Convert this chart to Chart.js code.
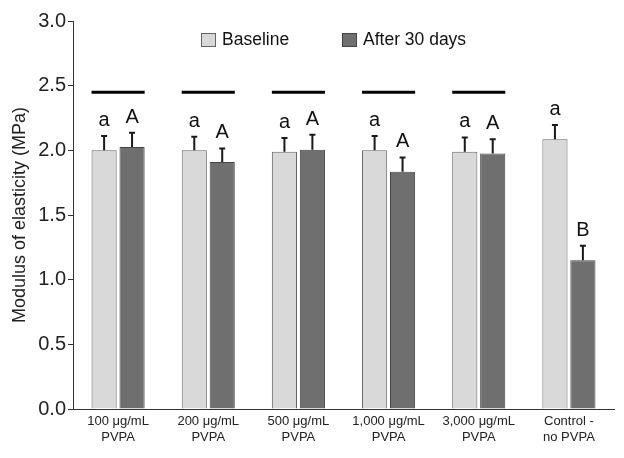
<!DOCTYPE html>
<html>
<head>
<meta charset="utf-8">
<script src="https://cdn.jsdelivr.net/npm/chart.js@4.4.1/dist/chart.umd.min.js"></script>
<style>
  html, body { margin: 0; padding: 0; background: #ffffff; }
  #wrap { width: 624px; height: 458px; }
</style>
</head>
<body>
<div id="wrap"><canvas id="c" width="624" height="458"></canvas></div>
<script>
// ---- data ----
const categories = [
  ["100 \u03bcg/mL", "PVPA"],
  ["200 \u03bcg/mL", "PVPA"],
  ["500 \u03bcg/mL", "PVPA"],
  ["1,000 \u03bcg/mL", "PVPA"],
  ["3,000 \u03bcg/mL", "PVPA"],
  ["Control -", "no PVPA"]
];
const baseline = [2.00, 2.00, 1.99, 2.00, 1.99, 2.085];
const after30 = [2.025, 1.91, 2.005, 1.835, 1.975, 1.15];
const baselineErr = [0.11, 0.105, 0.105, 0.11, 0.11, 0.11];
const after30Err = [0.11, 0.105, 0.115, 0.11, 0.11, 0.113];
const baselineLetters = ["a", "a", "a", "a", "a", "a"];
const after30Letters = ["A", "A", "A", "A", "A", "B"];
const sigLineGroups = [true, true, true, true, true, false];
const sigLineValue = 2.45;
const yTicks = [0, 0.5, 1.0, 1.5, 2.0, 2.5, 3.0];
const seriesNames = ["Baseline", "After 30 days"];

const FONT = "'Liberation Sans', Arial, Helvetica, sans-serif";

const annotations = {
  id: 'annotations',
  afterDatasetsDraw(chart) {
    const ctx = chart.ctx;
    const y = chart.scales.y;
    const errs = [baselineErr, after30Err];
    const vals = [baseline, after30];
    const letters = [baselineLetters, after30Letters];
    ctx.save();
    // error bars and letters
    for (let d = 0; d < 2; d++) {
      const meta = chart.getDatasetMeta(d);
      meta.data.forEach((bar, i) => {
        const top = y.getPixelForValue(vals[d][i]);
        const et = y.getPixelForValue(vals[d][i] + errs[d][i]);
        ctx.strokeStyle = '#1a1a1a';
        ctx.lineWidth = 2;
        ctx.beginPath();
        ctx.moveTo(bar.x, top);
        ctx.lineTo(bar.x, et);
        ctx.moveTo(bar.x - 3, et);
        ctx.lineTo(bar.x + 3, et);
        ctx.stroke();
        ctx.fillStyle = '#111';
        ctx.font = '20px ' + FONT;
        ctx.textAlign = 'center';
        ctx.textBaseline = 'alphabetic';
        ctx.fillText(letters[d][i], bar.x, et - 10);
      });
    }
    // significance lines
    const m0 = chart.getDatasetMeta(0), m1 = chart.getDatasetMeta(1);
    const ly = y.getPixelForValue(sigLineValue);
    ctx.strokeStyle = '#000';
    ctx.lineWidth = 3;
    sigLineGroups.forEach((on, i) => {
      if (!on) return;
      const b0 = m0.data[i], b1 = m1.data[i];
      ctx.beginPath();
      ctx.moveTo(b0.x - b0.width / 2, ly);
      ctx.lineTo(b1.x + b1.width / 2, ly);
      ctx.stroke();
    });
    // legend
    const ds = chart.data.datasets;
    const legendX = [201, 342];
    const ca = chart.chartArea;
    const boxTop = ca.top + 12;
    ctx.font = '17.5px ' + FONT;
    ctx.textAlign = 'left';
    ctx.textBaseline = 'middle';
    ds.forEach((s, k) => {
      ctx.fillStyle = s.backgroundColor;
      ctx.fillRect(legendX[k] + 0.5, boxTop + 0.5, 14, 13);
      ctx.strokeStyle = s.borderColor;
      ctx.lineWidth = 1;
      ctx.strokeRect(legendX[k] + 0.5, boxTop + 0.5, 14, 13);
      ctx.fillStyle = '#111';
      ctx.fillText(s.label, legendX[k] + 21, boxTop + 7.5);
    });
    ctx.restore();
  }
};

new Chart(document.getElementById('c'), {
  type: 'bar',
  data: {
    labels: categories,
    datasets: [
      { label: seriesNames[0], data: baseline, backgroundColor: '#d9d9d9', borderColor: '#666666', borderWidth: 1,
        categoryPercentage: 0.62, barPercentage: 0.9 },
      { label: seriesNames[1], data: after30, backgroundColor: '#6f6f6f', borderColor: '#444444', borderWidth: 1,
        categoryPercentage: 0.62, barPercentage: 0.9 }
    ]
  },
  options: {
    responsive: false,
    animation: false,
    layout: { padding: { top: 21, right: 10, left: 0, bottom: 0 } },
    plugins: { legend: { display: false }, tooltip: { enabled: false } },
    scales: {
      x: {
        grid: { display: false, drawTicks: false },
        border: { display: true, color: '#333', width: 1 },
        ticks: { color: '#222', font: { family: FONT, size: 13 }, padding: 5, maxRotation: 0, autoSkip: false },
        afterFit: (s) => { s.height = 49; }
      },
      y: {
        min: 0, max: 3,
        afterBuildTicks: (s) => { s.ticks = yTicks.map(v => ({ value: v })); },
        grid: { display: true, drawOnChartArea: false, drawTicks: true, tickLength: 5, color: '#333' },
        border: { display: true, color: '#333', width: 1 },
        ticks: { color: '#222', font: { family: FONT, size: 20 }, padding: 2, callback: (v) => Number(v).toFixed(1) },
        title: { display: true, text: 'Modulus of elasticity (MPa)', color: '#222', font: { family: FONT, size: 18 }, padding: { top: 9, bottom: 0 } },
        afterFit: (s) => { s.width = 73; }
      }
    }
  },
  plugins: [annotations]
});
</script>
</body>
</html>
